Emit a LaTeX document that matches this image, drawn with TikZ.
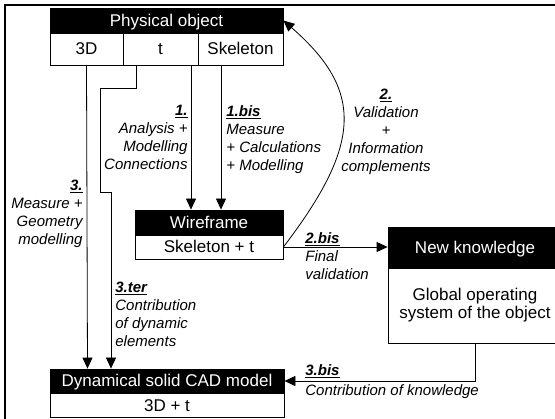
\documentclass[tikz,border=0pt]{standalone}
\usepackage{fontspec}
\setmainfont{Liberation Sans}
\usetikzlibrary{arrows.meta}

\tikzset{
  box/.style={draw=black,inner sep=0pt,font=\fontsize{17}{18}\selectfont},
  captext/.style={text height=12pt,text depth=0pt},
  head/.style={box,captext,fill=black,text=white},
  cell/.style={box,captext,fill=white},
  lbl/.style={inner sep=0pt,font=\fontsize{15}{18}\selectfont\itshape},
  arr/.style={-{Triangle[length=11pt,width=10pt]}},
}
\newcommand{\stepno}[1]{\underline{\textbf{#1}}}

\begin{document}
\begin{tikzpicture}[x=1pt,y=-1pt,line width=0.8pt]
        \useasboundingbox (0,0) rectangle (555,419);
        \clip (0,0) rectangle (555,419);
        \draw[line width=2pt] (4.5,5) rectangle (570,430);

        % physical object
        \node[head,minimum width=233pt,minimum height=25pt] (physhead) at (166.5,20.5) {Physical object};
        \node[cell,minimum width=73pt,minimum height=32pt] (phys3d) at (86.5,49) {3D};
        \node[cell,minimum width=75pt,minimum height=32pt] (physt) at (160.5,49) {t};
        \node[cell,minimum width=85pt,minimum height=32pt] (physskel) at (240.5,49) {Skeleton};

        % wireframe
        \node[head,minimum width=148pt,minimum height=25pt] (wirehead) at (209,222.5) {Wireframe};
        \node[cell,minimum width=148pt,minimum height=24pt] (wirelow) at (209,247) {Skeleton + t};

        % new knowledge
        \node[head,minimum width=174pt,minimum height=41pt] (newhead) at (475,247.5) {New knowledge};
        \node[box,fill=white,minimum width=174pt,minimum height=75pt,align=center] (newlow) at (475,305.5) {Global operating\\system of the object};

        % CAD model
        \node[head,minimum width=234pt,minimum height=24pt] (cadhead) at (167,381) {Dynamical solid CAD model};
        \node[cell,minimum width=234pt,minimum height=24.5pt] (cadlow) at (167,405.25) {3D + t};

        % connectors
        \draw[arr] (phys3d.south) -- ([xshift=-79.5pt]cadhead.north);
        \draw[arr] ([xshift=-24.5pt]physt.south) |- (100,88) |- (111,192) -- ([xshift=-56pt]cadhead.north);
        \draw[arr] ([xshift=30.5pt]physt.south) -- ([xshift=-18pt]wirehead.north);
        \draw[arr] ([xshift=-19.5pt]physskel.south) -- ([xshift=12pt]wirehead.north);
        \draw[arr] (wirelow.east) .. controls (363,143) and (363,90) .. (physhead.east);
        \draw[arr] (wirelow.east) -- (wirelow.east -| newhead.west);
        \draw[arr] (newlow.south) |- (cadhead.east);

        % labels
        \node[lbl,anchor=north east,align=right] (lbl1) at (188,105) {\stepno{1.}\\Analysis +\\Modelling\\Connections};
        \node[lbl,anchor=north west,align=left] (lbl1bis) at (226,105) {\stepno{1.bis}\\Measure\\+ Calculations\\+ Modelling};
        \node[lbl,anchor=north,align=center] (lbl2) at (386,89) {\stepno{2.}\\Validation\\+\\Information\\complements};
        \node[lbl,anchor=north east,align=right] (lbl3) at (83,180) {\stepno{3.}\\Measure +\\Geometry\\modelling};
        \node[lbl,anchor=north west,align=left] (lbl3ter) at (115,282) {\stepno{3.ter}\\Contribution\\of dynamic\\elements};
        \node[lbl,anchor=north west,align=left] (lbl2bis) at (305,232) {\stepno{2.bis}\\Final\\validation};
        \node[lbl,anchor=south west] (lbl3bis) at (305,378) {\stepno{3.bis}};
        \node[lbl,anchor=north west] (lbl3bisb) at (305,384) {Contribution of knowledge};
\end{tikzpicture}
\end{document}
